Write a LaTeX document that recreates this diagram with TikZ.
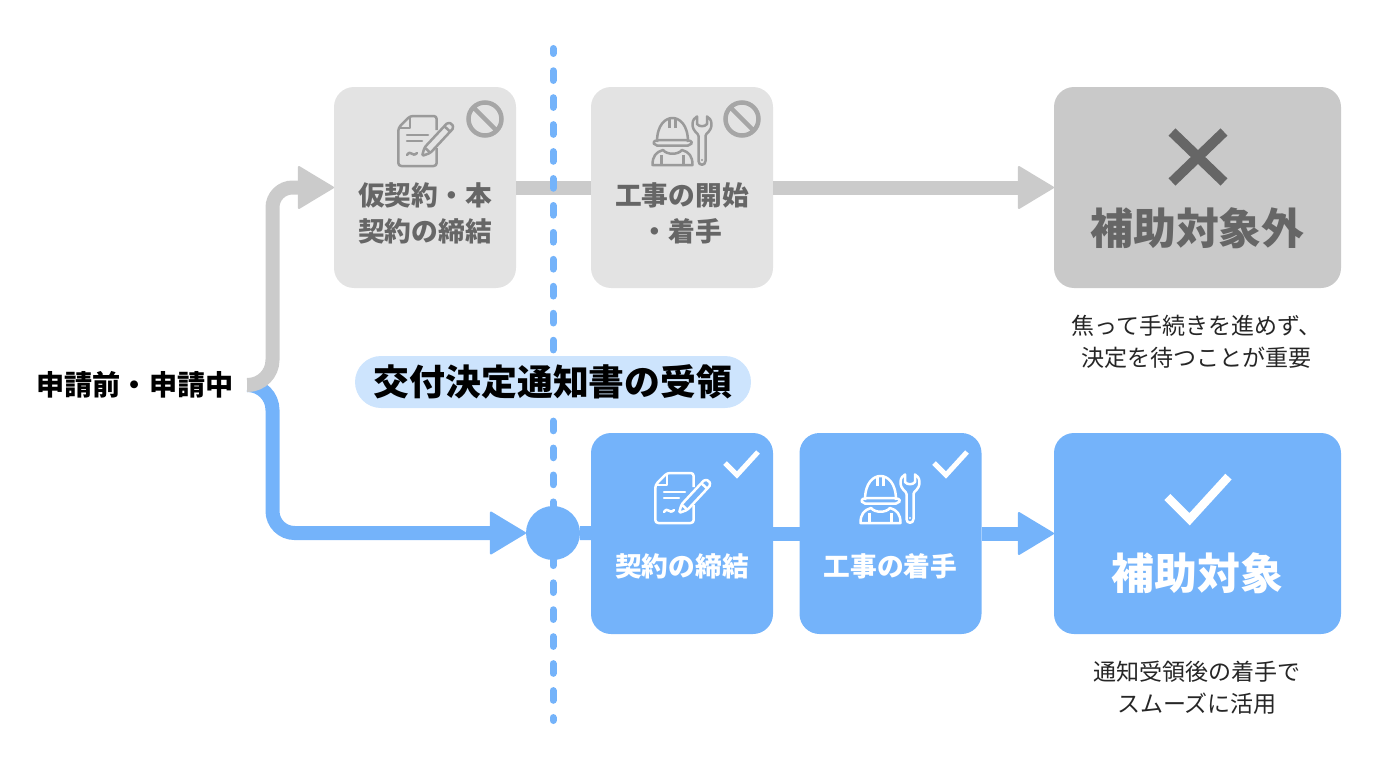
\documentclass[tikz,border=0pt]{standalone}
\usepackage{fontspec}
\setmainfont{Noto Sans CJK JP}
\usetikzlibrary{arrows.meta, backgrounds, positioning}
\definecolor{softblue}{HTML}{74B3FA}
\definecolor{paleblue}{HTML}{CDE4FD}
\definecolor{palegray}{HTML}{E3E3E3}
\definecolor{midgray}{HTML}{C9C9C9}
\definecolor{linegray}{HTML}{CBCBCB}
\definecolor{icongray}{HTML}{A6A6A6}
\definecolor{strokegray}{HTML}{9A9A9A}
\definecolor{textgray}{HTML}{666666}
\tikzset{
	smallbox/.style={rounded corners=0.2cm, minimum width=1.82cm, minimum height=2.01cm, inner sep=0pt, outer sep=0pt},
	bigbox/.style={rounded corners=0.2cm, minimum width=2.87cm, minimum height=2.01cm, inner sep=0pt, outer sep=0pt},
	boxlabel/.style={font=\fontsize{7.6pt}{10.2pt}\selectfont\bfseries, align=center, inner sep=0pt},
	biglabel/.style={font=\fontsize{12.2pt}{14pt}\selectfont\bfseries, inner sep=0pt},
	caption/.style={font=\fontsize{6.55pt}{9.1pt}\selectfont, align=center, text=black!85, inner sep=0pt},
	grayflow/.style={linegray, line width=0.14cm},
	blueflow/.style={softblue, line width=0.14cm},
	docicon/.pic={
		\draw[line width=0.025cm, line join=round, rounded corners=0.03cm] (0.187,0.11) -- (0.187,0.25) -- (-0.08,0.25) -- (-0.197,0.13) -- (-0.197,-0.25) -- (0.187,-0.25) -- (0.187,-0.07);
		\draw[line width=0.025cm, line join=round] (-0.08,0.25) -- (-0.08,0.13) -- (-0.197,0.13);
		\draw[line width=0.025cm, line cap=round] (-0.11,0.06) -- (0.1,0.06) (-0.11,0) -- (0.04,0);
		\draw[line width=0.025cm, line cap=round] (-0.11,-0.14) .. controls (-0.07,-0.08) and (-0.06,-0.17) .. (-0.01,-0.12);
		\begin{scope}[shift={(0.04,-0.15)}, rotate=47]
			\draw[line width=0.025cm, line join=round, rounded corners=0.015cm] (0,0) -- (0.08,0.04) -- (0.42,0.04) -- (0.44,0) -- (0.42,-0.04) -- (0.08,-0.04) -- cycle;
			\draw[line width=0.025cm] (0.08,0.04) -- (0.08,-0.04) (0.37,0.04) -- (0.37,-0.04);
		\end{scope}
	},
	workericon/.pic={
		\draw[line width=0.025cm, line join=round] (-0.25,-0.01) .. controls (-0.25,0.17) and (-0.16,0.23) .. (-0.095,0.23) .. controls (-0.03,0.23) and (0.06,0.17) .. (0.06,-0.01);
		\draw[line width=0.025cm, rounded corners=0.02cm] (-0.29,-0.01) -- (-0.27,-0.045) -- (0.08,-0.045) -- (0.105,-0.01) -- (0.06,0.01) -- (-0.25,0.01) -- cycle;
		\draw[line width=0.025cm] (-0.125,0.13) -- (-0.125,0.23) (-0.065,0.13) -- (-0.065,0.23);
		\draw[line width=0.025cm, line join=round] (-0.295,-0.24) .. controls (-0.295,-0.15) and (-0.26,-0.11) .. (-0.19,-0.09) .. controls (-0.15,-0.14) and (-0.04,-0.14) .. (0,-0.09) .. controls (0.07,-0.11) and (0.105,-0.15) .. (0.105,-0.24) -- cycle;
		\draw[line width=0.025cm] (-0.205,-0.24) -- (-0.205,-0.14) (0.015,-0.24) -- (0.015,-0.14);
		\draw[line width=0.025cm, line join=round] (0.165,-0.2) -- (0.165,0.05) .. controls (0.165,0.08) and (0.105,0.09) .. (0.105,0.17) .. controls (0.105,0.21) and (0.13,0.235) .. (0.15,0.245) -- (0.15,0.17) .. controls (0.17,0.14) and (0.23,0.14) .. (0.25,0.17) -- (0.25,0.245) .. controls (0.27,0.235) and (0.295,0.21) .. (0.295,0.17) .. controls (0.295,0.09) and (0.235,0.08) .. (0.235,0.05) -- (0.235,-0.2) .. controls (0.235,-0.25) and (0.165,-0.25) .. (0.165,-0.2) -- cycle;
		\fill (0.2,-0.19) circle (0.012cm);
	},
	banicon/.pic={
		\draw[icongray, line width=0.045cm] (0,0) circle (0.165cm) (135:0.165) -- (-45:0.165);
	},
	tickicon/.pic={
		\draw[line join=miter] (-0.16,0) -- (-0.04,-0.12) -- (0.17,0.11);
	},
}

\begin{document}
\begin{tikzpicture}[> = {Triangle[width=0.44cm,length=0.37cm,round,line width=0.02cm]}]
	\useasboundingbox (0,0) rectangle (13.76,-7.68);

	% upper row
	\node[smallbox, fill=palegray] (draft) at (4.25,-1.875) {};
	\node[smallbox, fill=palegray] (early) at (6.82,-1.875) {};
	\node[bigbox, fill=midgray] (rejected) at (11.975,-1.875) {};
	\node[boxlabel, text=textgray] (draft label) at (4.25,-2.13) {仮契約・本\\契約の締結};
	\node[boxlabel, text=textgray] (early label) at (6.82,-2.13) {工事の開始\\・着手};
	\node[biglabel, text=textgray] (rejected label) at (11.975,-2.28) {補助対象外};
	\node[caption] (rejected note) at (11.965,-3.42) {焦って手続きを進めず、\\決定を待つことが重要};

	% lower row
	\node[smallbox, fill=softblue] (contract) at (6.82,-5.335) {};
	\node[smallbox, fill=softblue] (work) at (8.905,-5.335) {};
	\node[bigbox, fill=softblue] (granted) at (11.975,-5.335) {};
	\node[boxlabel, text=white] (contract label) at (6.82,-5.66) {契約の締結};
	\node[boxlabel, text=white] (work label) at (8.905,-5.66) {工事の着手};
	\node[biglabel, text=white] (granted label) at (11.975,-5.73) {補助対象};
	\node[caption] (granted note) at (11.97,-6.88) {通知受領後の着手で\\スムーズに活用};

	\node[font=\fontsize{8pt}{10pt}\selectfont\bfseries, minimum width=2.24cm, inner sep=0pt, outer sep=0pt] (start) at (1.35,-3.85) {申請前・申請中};

	% gray route
	\draw[grayflow, ->] (start.east) [rounded corners=0.25cm] -- ++(0.255,0) [rounded corners=0.2cm] |- (draft.west);
	\draw[grayflow] (draft) -- (early);
	\draw[grayflow, ->] (early) -- (rejected);

	% dashed border
	\coordinate (dash top) at (5.53,-0.485);
	\coordinate (dash bottom) at (5.53,-7.205);
	\draw[softblue, line width=0.07cm, line cap=round, dash pattern=on 0.097cm off 0.1725cm, dash phase=0.047cm] (dash top) -- (dash bottom);

	\node[fill=paleblue, rounded corners=0.26cm, minimum width=3.96cm, minimum height=0.52cm, inner sep=0pt, font=\fontsize{10.2pt}{12pt}\selectfont\bfseries] (notice) at (5.53,-3.82) {交付決定通知書の受領};
	\node[circle, fill=softblue, minimum size=0.54cm, inner sep=0pt, outer sep=0pt] (gate) at (5.53,-5.33) {};

	% blue route
	\begin{scope}[on background layer]
		\draw[blueflow, ->] (start.east) [rounded corners=0.25cm] -- ++(0.255,0) [rounded corners=0.22cm] |- (gate.west);
	\end{scope}
	\draw[blueflow] (gate) -- (contract);
	\draw[blueflow] (contract) -- (work);
	\draw[blueflow, ->] (work) -- (granted);

	% icons
	\pic[color=strokegray] at (4.18,-1.41) {docicon};
	\pic[color=strokegray] at (6.82,-1.41) {workericon};
	\pic at (4.85,-1.19) {banicon};
	\pic at (7.42,-1.19) {banicon};
	\pic[color=white] at (6.75,-4.98) {docicon};
	\pic[color=white] at (8.9,-4.99) {workericon};
	\pic[color=white, line width=0.05cm] at (7.41,-4.63) {tickicon};
	\pic[color=white, line width=0.05cm] at (9.5,-4.63) {tickicon};
	\pic[color=white, line width=0.085cm, scale=1.85] at (11.97,-4.97) {tickicon};
	\draw[textgray, line width=0.1cm] (11.72,-1.32) -- (12.24,-1.82) (11.72,-1.82) -- (12.24,-1.32);
\end{tikzpicture}
\end{document}
